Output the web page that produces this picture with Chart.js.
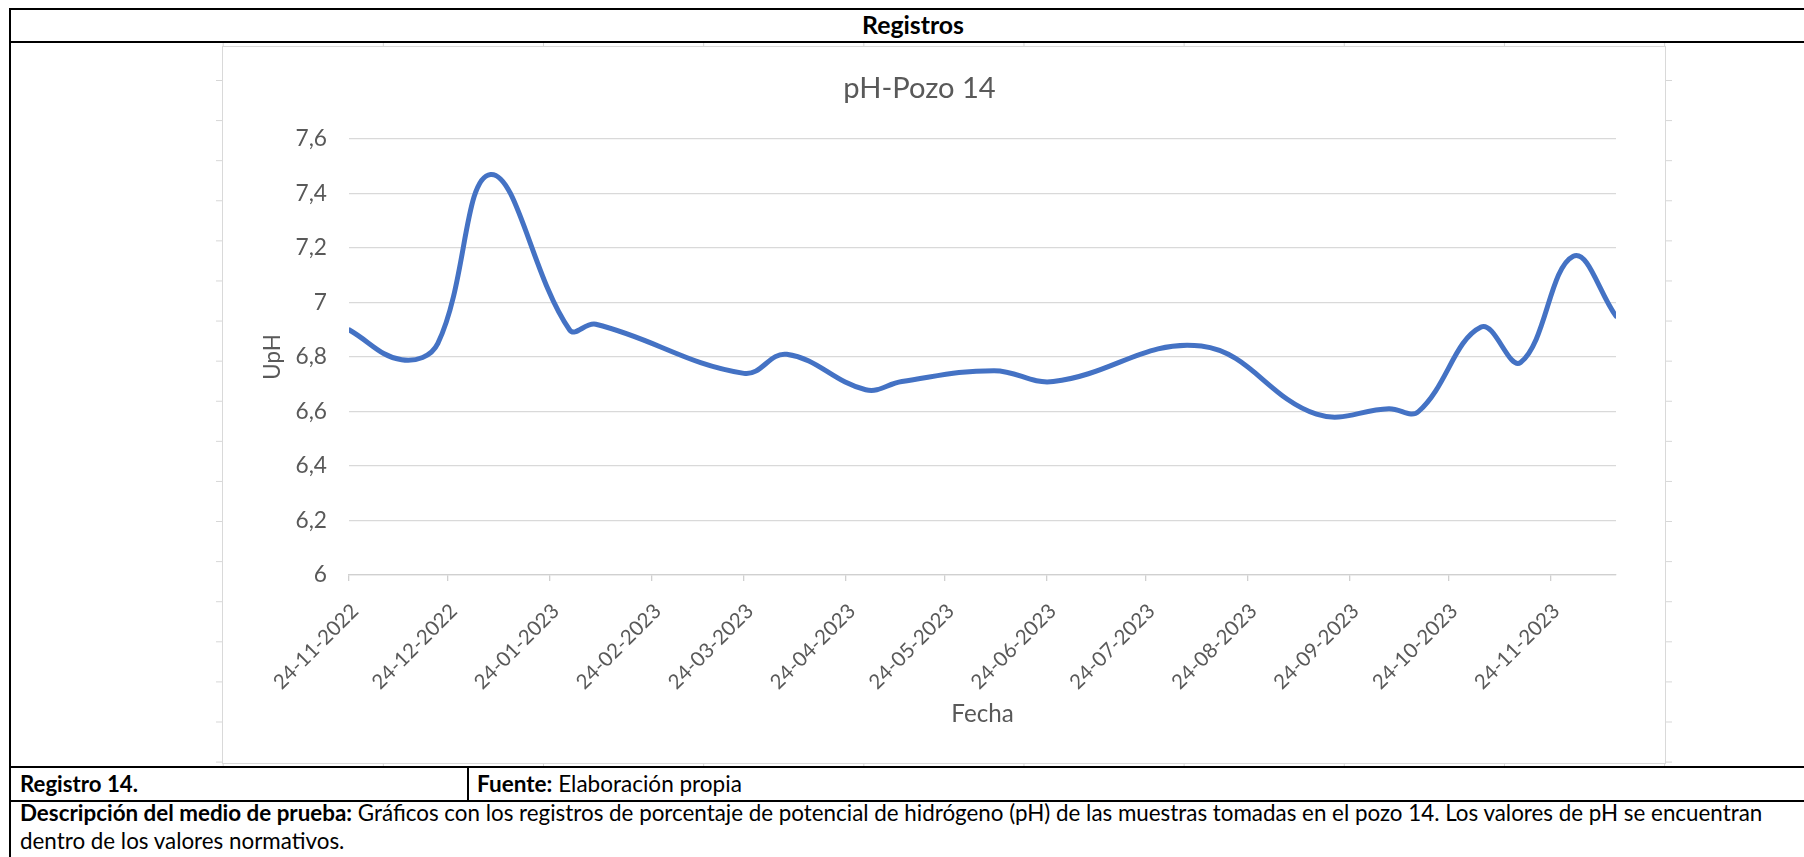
<!DOCTYPE html>
<html>
<head>
<meta charset="utf-8">
<script src="https://cdn.jsdelivr.net/npm/chart.js@4.4.1/dist/chart.umd.min.js"></script>
<style>
  html, body { margin: 0; padding: 0; background: #fff; }
  body { width: 1804px; height: 857px; overflow: hidden; position: relative; font-family: Lato, "Open Sans", sans-serif; color: #000; }
  .ln { position: absolute; background: #000; }
  .txt { position: absolute; white-space: nowrap; font-size: 20px; }
  .fit { display: inline-block; white-space: nowrap; }
  #excelGrid {
    position: absolute; left: 216px; top: 43px; width: 1456px; height: 723px;
    background-image:
      linear-gradient(to right, #d6d6d6 1px, transparent 1px),
      linear-gradient(to bottom, #d6d6d6 1px, transparent 1px);
    background-size: 160.16px 100%, 100% 40.1px;
    background-position: 6.7px 0, 0 37px;
  }
  #chartBox {
    position: absolute; left: 222px; top: 46px; width: 1442px; height: 716px;
    border: 1px solid #d9d9d9; background: #fff;
  }
  #chartBox canvas { display: block; }
</style>
</head>
<body>
<!-- table lines -->
<div class="ln" style="left:9px;top:8px;width:1820px;height:2px"></div>
<div class="ln" style="left:9px;top:8px;width:2px;height:900px"></div>
<div class="ln" style="left:9px;top:41px;width:1820px;height:2px"></div>
<div class="ln" style="left:9px;top:766px;width:1820px;height:2px"></div>
<div class="ln" style="left:9px;top:800px;width:1820px;height:2px"></div>
<div class="ln" style="left:467px;top:766px;width:2px;height:36px"></div>

<div class="txt" style="left:0px;top:9px;width:1826px;line-height:31px;text-align:center;font-weight:bold"><span class="fit" id="tHeader">Registros</span></div>
<div class="txt" style="left:20px;top:768px;line-height:32px;font-weight:bold"><span class="fit" id="tReg">Registro 14.</span></div>
<div class="txt" style="left:477px;top:768px;line-height:32px"><span class="fit" id="tFuente"><b>Fuente:</b> Elaboración propia</span></div>
<div class="txt" id="tDescBox" style="left:20px;top:799px;line-height:28px"><span class="fit" id="tDesc1"><b>Descripción del medio de prueba:</b> Gráficos con los registros de porcentaje de potencial de hidrógeno (pH) de las muestras tomadas en el pozo 14. Los valores de pH se encuentran</span><br><span class="fit">dentro de los valores normativos.</span></div>

<div id="excelGrid"></div>
<div id="chartBox"><canvas id="c" width="1442" height="716" style="width:1442px;height:716px"></canvas></div>

<script>
// ---- Data ----
const tituloGrafico = 'pH-Pozo 14';
const tituloEjeX = 'Fecha';
const tituloEjeY = 'UpH';

const fechas = [
  '24-11-2022', '10-12-2022', '21-12-2022', '06-01-2023', '30-01-2023',
  '07-02-2023', '24-03-2023', '06-04-2023', '30-04-2023', '11-05-2023',
  '08-06-2023', '26-06-2023', '10-08-2023', '14-09-2023', '06-10-2023',
  '15-10-2023', '03-11-2023', '15-11-2023', '01-12-2023', '14-12-2023'
];
const valoresPH = [
  6.90, 6.79, 6.85, 7.47, 6.90,
  6.92, 6.74, 6.81, 6.68, 6.71,
  6.75, 6.71, 6.84, 6.59, 6.61,
  6.60, 6.91, 6.78, 7.17, 6.95
];
const etiquetasX = [
  '24-11-2022', '24-12-2022', '24-01-2023', '24-02-2023', '24-03-2023',
  '24-04-2023', '24-05-2023', '24-06-2023', '24-07-2023', '24-08-2023',
  '24-09-2023', '24-10-2023', '24-11-2023'
];
const ejeYMin = 6;
const ejeYMax = 7.6;
const ejeYPaso = 0.2;

// ---- text sizing (fit widths measured on the reference) ----
function ajustarDOM(el, objetivo, aplicarA) {
  const base = parseFloat(getComputedStyle(el).fontSize);
  const w = el.getBoundingClientRect().width;
  (aplicarA || el).style.fontSize = (base * objetivo / w) + 'px';
}
ajustarDOM(document.getElementById('tHeader'), 102);
ajustarDOM(document.getElementById('tReg'), 118);
ajustarDOM(document.getElementById('tFuente'), 265);
ajustarDOM(document.getElementById('tDesc1'), 1743, document.getElementById('tDescBox'));
document.getElementById('tDesc1').style.fontSize = 'inherit';

const fuente = 'Lato';
const mctx = document.createElement('canvas').getContext('2d');
function tamPara(texto, objetivo) {
  mctx.font = '100px ' + fuente;
  return 100 * objetivo / mctx.measureText(texto).width;
}
const sTitulo = tamPara(tituloGrafico, 152.5);
const sTickY = tamPara('7,6', 31.5);
const sUpH = tamPara(tituloEjeY, 45.5);
const sFecha = tamPara(tituloEjeX, 62.5);
const sTickX = 20.5;

// ---- helpers ----
function aDia(s) {
  const [d, m, y] = s.split('-').map(Number);
  return Date.UTC(y, m - 1, d) / 86400000;
}
const origen = aDia(fechas[0]);
const diasDatos = fechas.map(f => aDia(f) - origen);
const diasTicks = etiquetasX.map(f => aDia(f) - origen);
const puntos = diasDatos.map((d, i) => ({ x: d, y: valoresPH[i] }));

const gris = '#595959';
const tituloPadTop = 42 - 0.6 * sTitulo;
const tituloPadBottom = 92 - tituloPadTop - 1.2 * sTitulo;

new Chart(document.getElementById('c').getContext('2d'), {
  type: 'line',
  data: {
    datasets: [{
      data: puntos,
      borderColor: '#4472C4',
      borderWidth: 5,
      pointRadius: 0,
      pointHoverRadius: 0,
      tension: 0.4,
      fill: false,
      borderCapStyle: 'round',
      borderJoinStyle: 'round'
    }]
  },
  options: {
    responsive: false,
    animation: false,
    devicePixelRatio: 1,
    layout: { padding: { left: 0, right: 49, top: 0, bottom: 0 } },
    plugins: {
      legend: { display: false },
      tooltip: { enabled: false },
      title: {
        display: true, text: tituloGrafico, color: gris,
        font: { family: fuente, size: sTitulo, weight: 'normal', lineHeight: 1.2 },
        padding: { top: tituloPadTop, bottom: tituloPadBottom }
      }
    },
    scales: {
      x: {
        type: 'linear',
        min: diasDatos[0],
        max: diasDatos[diasDatos.length - 1],
        afterBuildTicks: s => { s.ticks = diasTicks.map(v => ({ value: v })); },
        afterFit: s => { s.height = 188; },
        ticks: {
          autoSkip: false, minRotation: 45, maxRotation: 45,
          callback: (v, i) => etiquetasX[i],
          color: gris, font: { family: fuente, size: sTickX }, padding: 18, labelOffset: 6
        },
        grid: { display: true, drawOnChartArea: false, drawTicks: true, tickLength: 6, color: '#d0d0d0', lineWidth: 1.3 },
        border: { display: true, color: '#d0d0d0', width: 1.3 },
        title: {
          display: true, text: tituloEjeX, color: gris,
          font: { family: fuente, size: sFecha, lineHeight: 1.2 },
          padding: { top: 0, bottom: 716 - 667.5 - 0.6 * sFecha }
        }
      },
      y: {
        min: ejeYMin, max: ejeYMax,
        afterFit: s => { s.width = 126; },
        ticks: {
          stepSize: ejeYPaso,
          callback: v => String(Number(v.toFixed(1))).replace('.', ','),
          color: gris, font: { family: fuente, size: sTickY }, padding: 22
        },
        grid: { color: '#d9d9d9', lineWidth: 1.3, drawTicks: false },
        border: { display: false },
        title: {
          display: true, text: tituloEjeY, color: gris,
          font: { family: fuente, size: sUpH, lineHeight: 1.2 },
          padding: { top: 49.5 - 0.6 * sUpH, bottom: 0 }
        }
      }
    }
  }
});
</script>
</body>
</html>
